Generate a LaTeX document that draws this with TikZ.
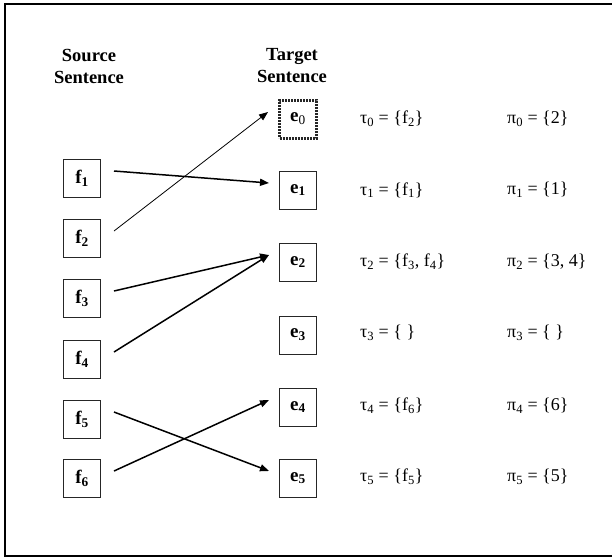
\documentclass[tikz,border=0pt]{standalone}
\usepackage{fontspec}
\setmainfont{Liberation Serif}
\usetikzlibrary{arrows.meta}
\tikzset{
  wordbox/.style={draw=black!85, line width=1pt, minimum width=37pt, minimum height=38pt,
    inner sep=0pt, font=\fontsize{19}{22}\selectfont\bfseries},
  nullbox/.style={wordbox, line width=3pt, dash pattern=on 2pt off 1pt},
  heading/.style={align=center, font=\fontsize{18.5}{22}\selectfont\bfseries, inner sep=0pt},
  settext/.style={anchor=west, inner sep=0pt, font=\fontsize{18}{20}\selectfont},
  link/.style={line width=1.5pt, -{Triangle[length=9pt,width=7pt]}},
  thinlink/.style={line width=0.8pt, -{Triangle[length=9pt,width=7pt]}}
}
\newcommand{\sbs}[1]{\textsubscript{#1}}
\begin{document}
\begin{tikzpicture}[x=1pt,y=-1pt]
\useasboundingbox (0,0) rectangle (612,558);
% outer frame, open on the right
\draw[line width=1.4pt] (612,4) -- (5,4) -- (5,556) -- (612,556);

% headings
\node[heading] (srch) at (89,66) {Source\\Sentence};
\node[heading] (tgth) at (292,66) {Target\\Sentence};

% source words
\node[wordbox] (f1) at (82,178) {f\sbs{1}};
\node[wordbox] (f2) at (82,238) {f\sbs{2}};
\node[wordbox] (f3) at (82,298) {f\sbs{3}};
\node[wordbox] (f4) at (82,359) {f\sbs{4}};
\node[wordbox] (f5) at (82,419) {f\sbs{5}};
\node[wordbox] (f6) at (82,478) {f\sbs{6}};

% target words
\node[nullbox] (e0) at (298,119) {e\sbs{\mdseries 0}};
\node[wordbox] (e1) at (298,190) {e\sbs{1}};
\node[wordbox] (e2) at (298,262) {e\sbs{2}};
\node[wordbox] (e3) at (298,335) {e\sbs{3}};
\node[wordbox] (e4) at (298,407) {e\sbs{4}};
\node[wordbox] (e5) at (298,478) {e\sbs{5}};

% alignment links
\draw[link] ([xshift=13pt,yshift=7pt]f1.east) -- ([xshift=-10pt,yshift=7pt]e1.west);
\draw[thinlink] ([xshift=13pt,yshift=7pt]f2.east) -- ([xshift=-10pt,yshift=7pt]e0.west);
\draw[link] ([xshift=13pt,yshift=7pt]f3.east) -- ([xshift=-10pt,yshift=7pt]e2.west);
\draw[link] ([xshift=13pt,yshift=7pt]f4.east) -- ([xshift=-10pt,yshift=7pt]e2.west);
\draw[link] ([xshift=13pt,yshift=7pt]f5.east) -- ([xshift=-10pt,yshift=7pt]e5.west);
\draw[link] ([xshift=13pt,yshift=7pt]f6.east) -- ([xshift=-10pt,yshift=7pt]e4.west);

% tau sets
\node[settext] (t0) at (360,119) {τ\sbs{0} = \{f\sbs{2}\}};
\node[settext] (t1) at (360,190) {τ\sbs{1} = \{f\sbs{1}\}};
\node[settext] (t2) at (360,262) {τ\sbs{2} = \{f\sbs{3}, f\sbs{4}\}};
\node[settext] (t3) at (360,333) {τ\sbs{3} = \{ \}};
\node[settext] (t4) at (360,406) {τ\sbs{4} = \{f\sbs{6}\}};
\node[settext] (t5) at (360,477) {τ\sbs{5} = \{f\sbs{5}\}};

% pi sets
\node[settext] (p0) at (507,119) {π\sbs{0} = \{2\}};
\node[settext] (p1) at (507,190) {π\sbs{1} = \{1\}};
\node[settext] (p2) at (507,262) {π\sbs{2} = \{3, 4\}};
\node[settext] (p3) at (507,333) {π\sbs{3} = \{ \}};
\node[settext] (p4) at (507,406) {π\sbs{4} = \{6\}};
\node[settext] (p5) at (507,477) {π\sbs{5} = \{5\}};
\end{tikzpicture}
\end{document}
